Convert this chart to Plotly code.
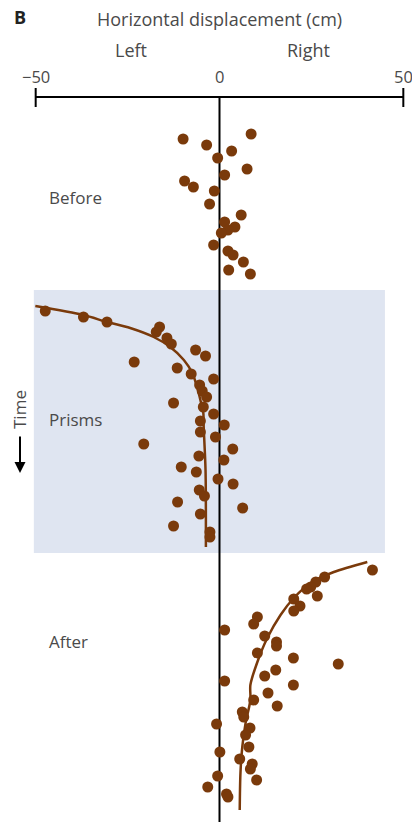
import plotly.graph_objects as go

# ---------------- data (x: horizontal displacement in cm, t: time, arbitrary units, downward) -------------
before_x = [-9.9, 8.6, -3.5, 3.3, -0.5, 7.5, 1.4, -9.5, -7.1, -1.4, -2.7, 5.9, 1.4, 4.2, 2.3, 0.5,
            -1.6, 2.3, 3.7, 6.5, 2.5, 8.4]
before_t = [42, 37, 48, 54, 61, 72, 78, 84, 90, 94, 107, 118, 125, 130, 133, 136,
            148, 154, 158, 165, 173, 177]

prism_x = [-47.4, -37.0, -30.6, -16.3, -17.2, -14.3, -13.1, -6.5, -3.8, -23.2, -11.5, -7.7, -1.6,
           -5.4, -4.7, -3.5, -12.5, -4.4, -1.6, -5.2, 1.3, -5.2, -1.1, -20.6, 3.6, -5.6, 1.2,
           -10.4, -6.3, -0.4, 3.7, -5.5, -4.1, -11.4, 6.3, -5.2, -12.5, -2.6, -2.6]
prism_t = [214, 220, 225, 230, 235, 241, 247, 253, 259, 265, 271, 277, 282,
           288, 294, 300, 306, 310, 317, 324, 328, 335, 340, 347, 352, 359, 363,
           370, 375, 382, 387, 393, 399, 405, 411, 417, 429, 435, 440]

prism_fit_x = [-50.1, -37.0, -30.6, -24.3, -17.9, -13.4, -9.7, -7.4, -6.1, -5.2, -4.4, -4.3, -3.8, -3.7]
prism_fit_t = [209, 218, 225, 231, 240, 250, 263, 276, 290, 303, 316, 330, 373, 450]

after_x = [41.6, 28.6, 26.2, 24.8, 23.7, 26.6, 20.2, 21.9, 20.2, 10.3, 9.3, 1.4, 12.3, 15.5, 15.5,
           10.3, 20.1, 32.3, 15.3, 12.3, 1.4, 20.1, 13.2, 15.7, 9.3, 6.2, 6.6, -0.8, 8.3, 7.1,
           8.0, 0.1, 5.5, 8.9, 8.4, -0.5, 10.1, -3.2, 1.9, 2.3]
after_t = [473, 480, 485, 490, 492, 499, 502, 509, 514, 520, 527, 533, 539, 545, 549,
           556, 561, 567, 573, 579, 584, 588, 596, 609, 603, 615, 620, 627, 631, 638,
           650, 655, 662, 667, 672, 679, 683, 690, 697, 700]

after_fit_x = [40.2, 31.1, 24.8, 20.2, 16.6, 13.0, 10.3, 8.4, 8.4, 7.1, 6.2, 5.7, 5.5]
after_fit_t = [465, 475, 486, 501, 518, 541, 565, 588, 603, 626, 650, 676, 713]

prism_period = [193, 456]          # time span of the prism exposure (shaded)
prism_x_span = [-50.5, 45]
tick_vals = [-50, 0, 50]
tick_text = ["\u221250", "0", "50"]
phase_labels = ["Before", "Prisms", "After"]
phase_label_t = [100, 322, 544]

# ---------------- style ----------------
BROWN = "#7a3a0b"
SHADE = "#dfe5f1"
TXT = "#4a4a4a"
FONT = "Open Sans"
FS = 17
FS_TICK = 16.5

W, H = 412, 822
ML, MR, MT, MB = 32, 5, 67, 0
XR = [-51, 51]
YR = [725, -30]

def px_paper(px, py):
    """page pixel -> paper coordinates"""
    return (px - ML) / (W - ML - MR), 1 - (py - MT) / (H - MT - MB)

fig = go.Figure()

fig.add_trace(go.Scatter(x=prism_fit_x, y=prism_fit_t, mode="lines",
                         line=dict(color=BROWN, width=2.5, shape="spline", smoothing=0.8),
                         hoverinfo="skip", showlegend=False))
fig.add_trace(go.Scatter(x=after_fit_x, y=after_fit_t, mode="lines",
                         line=dict(color=BROWN, width=2.5, shape="spline", smoothing=0.8),
                         hoverinfo="skip", showlegend=False))
for xs, ts in [(before_x, before_t), (prism_x, prism_t), (after_x, after_t)]:
    fig.add_trace(go.Scatter(x=xs, y=ts, mode="markers",
                             marker=dict(color=BROWN, size=11, line=dict(width=0)),
                             showlegend=False))

shapes = [
    dict(type="rect", xref="x", yref="y", x0=prism_x_span[0], x1=prism_x_span[1],
         y0=prism_period[0], y1=prism_period[1], fillcolor=SHADE, line=dict(width=0), layer="below"),
    dict(type="line", xref="x", yref="y", x0=0, x1=0, y0=0, y1=YR[0],
         line=dict(color="black", width=2), layer="below"),
    dict(type="line", xref="x", yref="y", x0=tick_vals[0], x1=tick_vals[-1], y0=0, y1=0,
         line=dict(color="black", width=2)),
]
for tv in (tick_vals[0], tick_vals[-1]):
    shapes.append(dict(type="line", xref="x", yref="y", x0=tv, x1=tv, y0=-9, y1=10,
                       line=dict(color="black", width=2)))

ann = []
for tv, tt in zip(tick_vals, tick_text):
    ann.append(dict(x=tv, y=-21, xref="x", yref="y", text=tt, showarrow=False,
                    font=dict(family=FONT, size=FS_TICK, color=TXT), xanchor="center", yanchor="middle"))
for lab, t in zip(phase_labels, phase_label_t):
    px, py = px_paper(47, 0)
    ann.append(dict(x=px, y=t, xref="paper", yref="y", text=lab, showarrow=False,
                    font=dict(family=FONT, size=FS, color=TXT), xanchor="left", yanchor="middle"))

def add_text(text, px, py, size, color=TXT, bold=False, angle=0, xanchor="center"):
    xp, yp = px_paper(px, py)
    ann.append(dict(x=xp, y=yp, xref="paper", yref="paper",
                    text=f"<b>{text}</b>" if bold else text, showarrow=False, textangle=angle,
                    font=dict(family=FONT, size=size, color=color), xanchor=xanchor, yanchor="middle"))

add_text("B", 20, 17, 18, color="#222222", bold=True)
add_text("Horizontal displacement (cm)", 219, 19, 18)
add_text("Left", 131, 50, 18)
add_text("Right", 308, 50, 18)
add_text("Time", 19, 410, FS, angle=-90)

# time arrow
ax0, ay0 = px_paper(20, 473)
ann.append(dict(x=ax0, y=ay0, xref="paper", yref="paper", ax=0, ay=-38, axref="pixel", ayref="pixel",
                text="", showarrow=True, arrowhead=2, arrowsize=1.1, arrowwidth=2, arrowcolor="black"))

fig.update_layout(
    width=W, height=H,
    margin=dict(l=ML, r=MR, t=MT, b=MB, pad=0),
    paper_bgcolor="white", plot_bgcolor="white",
    xaxis=dict(range=XR, visible=False, fixedrange=True),
    yaxis=dict(range=YR, visible=False, fixedrange=True),
    shapes=shapes, annotations=ann, showlegend=False,
)

fig.write_html("out.html", config={"displayModeBar": False},
               post_script="document.body.style.margin='0';document.body.style.overflow='hidden';")
